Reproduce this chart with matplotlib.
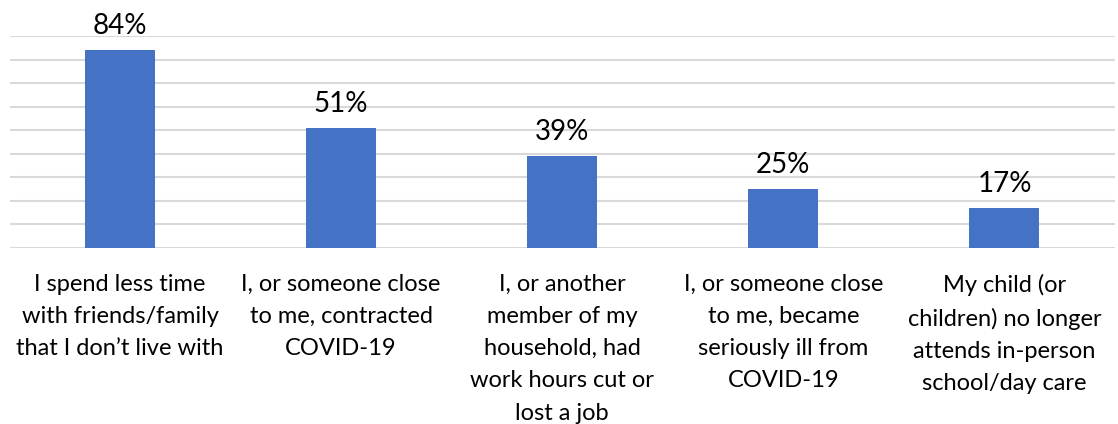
import matplotlib
matplotlib.use("Agg")
import numpy as np
import matplotlib.pyplot as plt

categorias = [
    "I spend less time\nwith friends/family\nthat I don\u2019t live with",
    "I, or someone close\nto me, contracted\nCOVID-19",
    "I, or another\nmember of my\nhousehold, had\nwork hours cut or\nlost a job",
    "I, or someone close\nto me, became\nseriously ill from\nCOVID-19",
    "My child (or\nchildren) no longer\nattends in-person\nschool/day care",
]
valores = [84, 51, 39, 25, 17]
etiquetas = ["84%", "51%", "39%", "25%", "17%"]

plt.rcParams['font.family'] = ['Lato', 'DejaVu Sans']

fig = plt.figure(figsize=(11.18, 4.24), dpi=100)
ax = fig.add_axes([9.5 / 1118, 176 / 424, 1105.5 / 1118, 212 / 424])

x = np.arange(len(valores))
ax.bar(x, valores, width=0.317, color='#4472C4', zorder=3)

# Etiquetas de valor encima de cada barra
for xi, v, txt in zip(x, valores, etiquetas):
    ax.annotate(txt, (xi, v), xytext=(0, 8), textcoords='offset points',
                ha='center', va='bottom', fontsize=20, color='#000000')

ax.set_xlim(-0.5, len(valores) - 0.5)
ax.set_ylim(0, 90)
ax.set_yticks(np.arange(0, 91, 10))
ax.yaxis.grid(True, color='#d9d9d9', linewidth=1.5, zorder=0)
ax.tick_params(axis='y', left=False, labelleft=False)
ax.tick_params(axis='x', length=0, pad=18.5)
ax.set_xticks(x)
ax.set_xticklabels(categorias, fontsize=17, linespacing=1.66, color='#000000')
for s in ax.spines.values():
    s.set_visible(False)
ax.set_axisbelow(True)

fig.savefig("out.png", dpi=100)
